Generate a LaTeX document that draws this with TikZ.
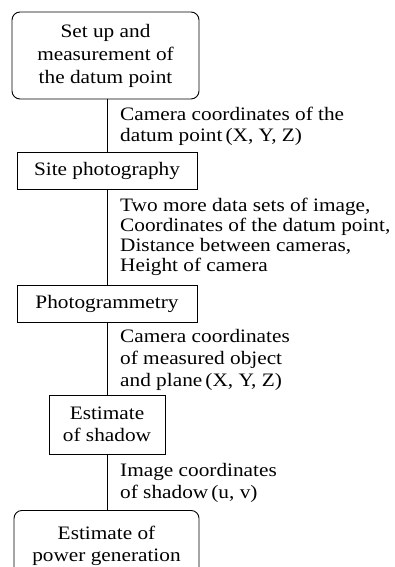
\documentclass[tikz,border=0pt]{standalone}
\usepackage{fontspec}
\setmainfont[FakeStretch=1.12]{Liberation Serif}
\begin{document}
\begin{tikzpicture}[x=1pt,y=1pt,
  every node/.style={font=\fontsize{19}{21}\selectfont},
  box/.style={draw, line width=0.9pt, inner sep=0pt, align=center},
  rbox/.style={box, rounded corners=8pt},
  lbl/.style={anchor=base west, align=left, inner sep=0pt},
  conn/.style={line width=0.9pt}]
\useasboundingbox (0,0) rectangle (394,-567);
\clip (0,0) rectangle (394,-567);
\node[rbox, minimum width=187, minimum height=87, font=\fontsize{19}{23}\selectfont] (b1) at (105.5,-55.5) {\raisebox{-1.5pt}{\parbox{180pt}{\centering Set up and\\measurement of\\the datum point}}};
\node[box, minimum width=180, minimum height=37] (b2) at (107,-170.5) {Site photography};
\node[box, minimum width=180, minimum height=37] (b3) at (107,-303.5) {Photogrammetry};
\node[box, minimum width=116, minimum height=59, font=\fontsize{19}{22}\selectfont] (b4) at (107,-424.5) {Estimate\\of shadow};
\node[rbox, minimum width=185, minimum height=70, anchor=north, font=\fontsize{19}{22}\selectfont] (b5) at (106.5,-510) {Estimate of\\power generation};
\draw[conn] (b1.south -| b2.north) -- (b2.north);
\draw[conn] (b2) -- (b3);
\draw[conn] (b3) -- (b4);
\draw[conn] (b4.south) -- (b4.south |- b5.north);
\node[lbl] (l1) at (120,-142) {Camera coordinates of the\\datum point\,(X, Y, Z)};
\node[lbl, font=\fontsize{19}{20}\selectfont] (l2) at (120,-271) {Two more data sets of image,\\Coordinates of the datum point,\\Distance between cameras,\\Height of camera};
\node[lbl, font=\fontsize{19}{22}\selectfont] (l3) at (120,-386) {Camera coordinates\\of measured object\\and plane\,(X, Y, Z)};
\node[lbl, font=\fontsize{19}{22}\selectfont] (l4) at (120,-498) {Image coordinates\\of shadow\,(u, v)};
\end{tikzpicture}
\end{document}
